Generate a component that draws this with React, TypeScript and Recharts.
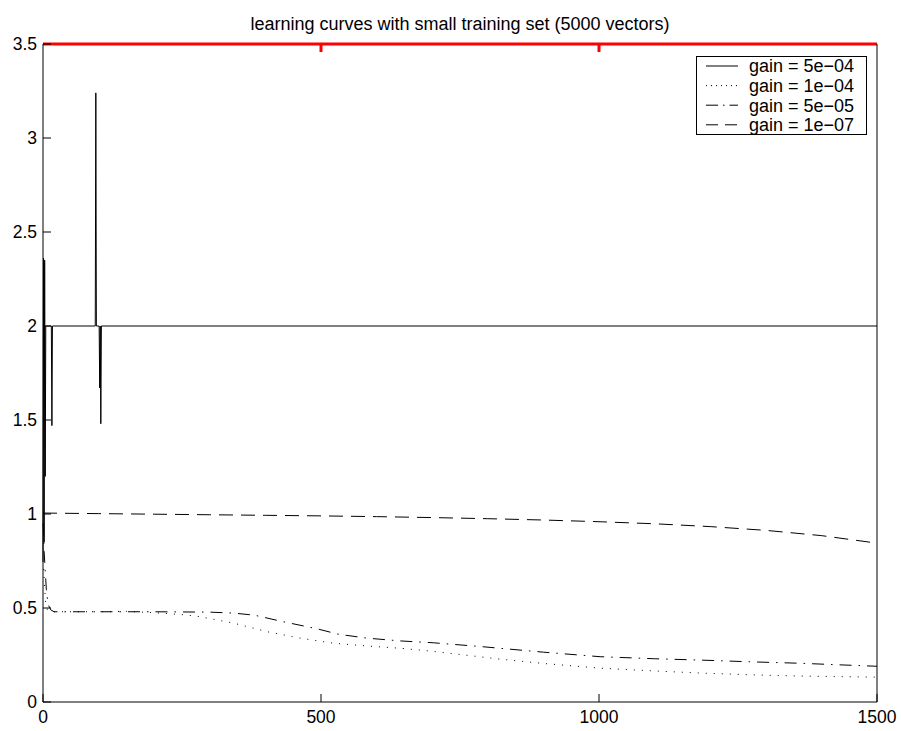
import React from 'react';
import { LineChart, Line, XAxis, YAxis, ReferenceLine } from 'recharts';

const FONT = '"Liberation Sans", Arial, Helvetica, sans-serif';

const titleText = 'learning curves with small training set (5000 vectors)';
const xTicks = [0, 500, 1000, 1500];
const yTicks = [0, 0.5, 1, 1.5, 2, 2.5, 3, 3.5];
const seriesNames = ['gain = 5e\u221204', 'gain = 1e\u221204', 'gain = 5e\u221205', 'gain = 1e\u221207'];

const solidEpochs = [0, 1, 2, 3, 4, 5, 15, 16, 17, 94, 95, 96, 101, 102, 103, 104, 105, 1500];
const solidValues = [0.75, 2.36, 0.85, 2.35, 1.2, 2.0, 2.0, 1.47, 2.0, 2.0, 3.24, 2.0, 2.0, 1.67, 2.0, 1.48, 2.0, 2.0];

const dottedEpochs = [0, 1, 3, 5, 8, 20, 100, 150, 200, 250, 282, 342, 403, 462, 522, 582, 642, 700, 822, 900, 1002, 1100, 1182, 1270, 1362, 1430, 1500];
const dottedValues = [0.75, 0.72, 0.6, 0.52, 0.49, 0.48, 0.48, 0.482, 0.475, 0.465, 0.454, 0.42, 0.374, 0.34, 0.313, 0.298, 0.286, 0.27, 0.228, 0.205, 0.18, 0.165, 0.154, 0.145, 0.138, 0.135, 0.132];

const dashDotEpochs = [0, 1, 2, 4, 6, 9, 14, 20, 100, 200, 300, 342, 380, 432, 492, 532, 582, 642, 702, 791, 900, 1002, 1100, 1182, 1270, 1362, 1430, 1500];
const dashDotValues = [0.95, 0.9, 0.8, 0.7, 0.6, 0.52, 0.49, 0.48, 0.48, 0.48, 0.478, 0.473, 0.462, 0.427, 0.39, 0.36, 0.34, 0.325, 0.315, 0.294, 0.265, 0.241, 0.23, 0.223, 0.214, 0.206, 0.198, 0.19];

const dashedEpochs = [0, 100, 200, 300, 400, 500, 600, 700, 800, 900, 1000, 1100, 1200, 1300, 1400, 1500];
const dashedValues = [1.005, 1.002, 0.999, 0.996, 0.993, 0.99, 0.986, 0.981, 0.975, 0.968, 0.959, 0.948, 0.933, 0.913, 0.885, 0.845];

const toPoints = (xs: number[], ys: number[]) => xs.map((x, i) => ({ x, y: ys[i] }));

const seriesData = [
  toPoints(solidEpochs, solidValues),
  toPoints(dottedEpochs, dottedValues),
  toPoints(dashDotEpochs, dashDotValues),
  toPoints(dashedEpochs, dashedValues),
];

const curveDash = [undefined, '1 7', '12 7 1.5 7', '14 8'];
const legendDash = [undefined, '1 4', '12 5 1.5 5', '12 7'];

const CHART_W = 901;
const CHART_H = 731;
const MARGIN = { top: 44, right: 23, bottom: 0, left: 0 };
const X_AXIS_H = 29;
const PLOT_H = CHART_H - MARGIN.top - MARGIN.bottom - X_AXIS_H;
const TICK_PX = 8;
const Y_MAX = 3.5;
const topTickDepth = (TICK_PX * Y_MAX) / PLOT_H;

const tickStyle = { fill: '#000', fontSize: 17.5, fontFamily: FONT };

const EmptyTick = () => <g />;

const LegendBox = () => (
  <svg width={171} height={79} style={{ display: 'block' }}>
    <rect x={0.5} y={0.5} width={170} height={78} fill="#fff" stroke="#000" strokeWidth={1} />
    {seriesNames.map((name, i) => {
      const cy = 10 + i * 19.6;
      return (
        <g key={name}>
          <line x1={10} x2={42} y1={cy} y2={cy} stroke="#000" strokeWidth={1} strokeDasharray={legendDash[i]} />
          <text x={53} y={cy} dy="0.36em" fontSize={18} fontFamily={FONT} fill="#000">
            {name}
          </text>
        </g>
      );
    })}
  </svg>
);

export default function App() {
  return (
    <div style={{ position: 'absolute', left: 0, top: 0, width: CHART_W, height: CHART_H, background: '#fff' }}>
      <LineChart width={CHART_W} height={CHART_H} margin={MARGIN}>
        <XAxis
          xAxisId="b"
          type="number"
          dataKey="x"
          domain={[0, 1500]}
          ticks={xTicks}
          orientation="bottom"
          height={X_AXIS_H}
          tickSize={-TICK_PX}
          tickMargin={17}
          axisLine={{ stroke: '#000' }}
          tickLine={{ stroke: '#000' }}
          tick={tickStyle}
          interval={0}
        />
        <YAxis
          yAxisId="l"
          type="number"
          domain={[0, Y_MAX]}
          ticks={yTicks}
          orientation="left"
          width={43}
          tickSize={-TICK_PX}
          tickMargin={14}
          axisLine={{ stroke: '#000' }}
          tickLine={{ stroke: '#000' }}
          tick={tickStyle}
          interval={0}
        />
        <YAxis
          yAxisId="r"
          type="number"
          domain={[0, Y_MAX]}
          ticks={yTicks}
          orientation="right"
          width={1}
          tickSize={-TICK_PX}
          axisLine={{ stroke: '#000' }}
          tickLine={{ stroke: '#000' }}
          tick={EmptyTick}
          interval={0}
        />
        <ReferenceLine xAxisId="b" yAxisId="l" y={Y_MAX} stroke="#f00" strokeWidth={3} ifOverflow="visible" />
        {xTicks.slice(1, -1).map((t) => (
          <ReferenceLine
            key={`tt${t}`}
            xAxisId="b"
            yAxisId="l"
            segment={[
              { x: t, y: Y_MAX },
              { x: t, y: Y_MAX - topTickDepth },
            ]}
            stroke="#f00"
            strokeWidth={3}
            ifOverflow="visible"
          />
        ))}
        {seriesData.map((pts, i) => (
          <Line
            key={seriesNames[i]}
            name={seriesNames[i]}
            xAxisId="b"
            yAxisId="l"
            data={pts}
            dataKey="y"
            type="linear"
            stroke="#000"
            strokeWidth={1}
            strokeDasharray={curveDash[i]}
            dot={false}
            activeDot={false}
            isAnimationActive={false}
          />
        ))}
      </LineChart>
      <div
        style={{
          position: 'absolute',
          left: 0,
          top: 14.8,
          width: 920,
          height: 18,
          textAlign: 'center',
          fontFamily: FONT,
          fontSize: 18,
          lineHeight: '18px',
          color: '#000',
          whiteSpace: 'nowrap',
          pointerEvents: 'none',
        }}
      >
        {titleText}
      </div>
      <div style={{ position: 'absolute', left: 696, top: 56, width: 171, height: 79 }}>
        <LegendBox />
      </div>
    </div>
  );
}
